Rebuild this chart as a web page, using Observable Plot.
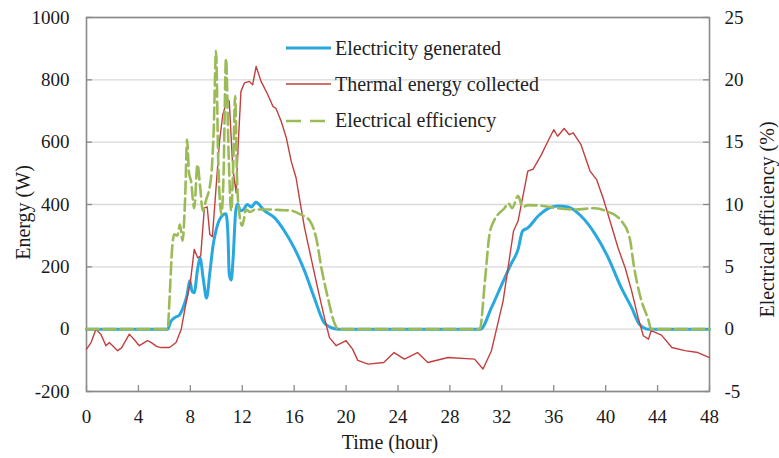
<!DOCTYPE html>
<html>
<head>
<meta charset="utf-8">
<script src="https://cdn.jsdelivr.net/npm/d3@7"></script>
<script src="https://cdn.jsdelivr.net/npm/@observablehq/plot@0.6"></script>
<style>
  html, body { margin: 0; padding: 0; background: #fff; }
  #wrap { position: relative; width: 779px; height: 458px; font-family: "Liberation Serif", "Times New Roman", serif; }
  #legend { position: absolute; left: 286px; top: 30px; font-size: 20px; color: #222; }
  .row { display: flex; align-items: center; height: 36.3px; }
  .row svg { margin-right: 4px; }
</style>
</head>
<body>
<div id="wrap"><div id="legend"></div></div>
<script>
// ---- data ----
const seriesNames = ["Electricity generated", "Thermal energy collected", "Electrical efficiency"];

const elecTime  = [0, 6.25, 6.5, 6.8, 7.15, 7.45, 7.75, 7.95, 8.15, 8.3, 8.55, 8.75, 9.0, 9.25, 9.5, 9.75, 10.0, 10.3, 10.75, 10.9, 11.0, 11.15, 11.3, 11.5, 11.65, 11.85, 12.05, 12.4, 12.7, 13.05, 13.7, 14.5, 15.25, 16.0, 16.8, 17.55, 18.3, 18.85, 19.4, 30.35, 31.2, 32.0, 32.7, 33.25, 33.6, 34.0, 34.8, 35.55, 36.3, 37.1, 38.1, 39.2, 40.2, 41.2, 42.0, 42.6, 43.3, 48];
const elecPower = [0, 0, 25, 37, 45, 70, 110, 155, 120, 117, 190, 228, 160, 100, 180, 268, 320, 355, 370, 300, 175, 158, 230, 380, 402, 380, 382, 400, 392, 407, 380, 357, 315, 261, 187, 101, 21, 5, 0, 0, 69, 144, 208, 256, 315, 325, 363, 387, 395, 392, 363, 304, 229, 133, 69, 16, 0, 0];

const thermTime  = [0, 0.35, 0.73, 1.1, 1.5, 1.76, 2.4, 2.7, 3.3, 3.7, 4.07, 4.7, 5.0, 5.4, 5.74, 6.4, 6.9, 7.3, 7.65, 8.0, 8.3, 8.57, 8.8, 9.08, 9.3, 9.5, 9.7, 10.0, 10.25, 10.5, 10.85, 11.0, 11.27, 11.53, 11.7, 11.9, 12.17, 12.55, 12.8, 13.07, 13.45, 13.97, 14.36, 14.6, 15.0, 15.4, 15.77, 16.15, 16.4, 16.8, 17.3, 17.8, 18.33, 18.72, 19.24, 20.0, 20.5, 20.9, 21.7, 22.9, 23.7, 24.5, 25.5, 26.3, 27.85, 29.9, 30.55, 31.2, 32.1, 32.9, 33.25, 34.0, 34.4, 35.05, 35.55, 36.0, 36.3, 36.8, 37.2, 37.5, 38.1, 38.8, 39.3, 39.8, 40.45, 40.95, 41.5, 42.0, 42.5, 42.9, 43.3, 43.5, 44.3, 45.1, 46.1, 47.1, 48];
const thermPower = [-64, -43, 0, -16, -53, -43, -69, -60, -16, -35, -53, -37, -43, -55, -59, -59, -43, 0, 80, 150, 256, 229, 235, 389, 392, 304, 297, 464, 603, 688, 738, 731, 517, 437, 603, 763, 790, 795, 784, 843, 795, 752, 715, 708, 667, 613, 539, 485, 421, 325, 229, 133, 37, -27, -53, -37, -64, -100, -112, -107, -75, -96, -75, -107, -91, -96, -128, -69, 91, 315, 347, 507, 513, 560, 603, 640, 619, 644, 624, 630, 592, 507, 480, 421, 331, 261, 197, 123, 37, -21, -32, -5, -19, -59, -69, -75, -91];

const effTime  = [0, 6.25, 6.4, 6.6, 6.75, 7.0, 7.2, 7.4, 7.6, 7.75, 7.9, 8.05, 8.3, 8.55, 8.75, 8.95, 9.2, 9.6, 9.8, 9.98, 10.15, 10.4, 10.55, 10.75, 10.95, 11.15, 11.3, 11.45, 11.6, 11.78, 12.0, 12.3, 12.6, 13.0, 14.0, 15.0, 15.8, 16.5, 17.2, 17.7, 18.1, 18.6, 19.1, 19.4, 30.3, 30.7, 31.05, 31.4, 31.7, 32.2, 32.5, 32.8, 33.25, 33.6, 34.0, 35.0, 36.3, 37.6, 39.2, 40.2, 40.8, 41.2, 41.85, 42.2, 42.7, 43.3, 43.5, 48];
const effValue = [0, 0, 2.5, 6.5, 7.6, 7.5, 8.4, 7.1, 10.5, 15.2, 12.5, 11.9, 9.7, 13.2, 11.5, 9.5, 10.3, 12.2, 16, 22.3, 13.5, 9.2, 12, 21.7, 14, 9.5, 13, 18.7, 12, 9.2, 8.3, 9.6, 9.4, 9.6, 9.6, 9.55, 9.5, 9.2, 8.7, 7.3, 4.9, 2.5, 0.5, 0, 0, 3.9, 7.6, 8.7, 9.2, 9.7, 10.1, 9.7, 10.7, 9.8, 9.95, 9.9, 9.7, 9.6, 9.7, 9.4, 9.1, 8.7, 7.3, 4.9, 2.5, 0.7, 0, 0];

const xTicks = [0, 4, 8, 12, 16, 20, 24, 28, 32, 36, 40, 44, 48];
const energyTicks = [-200, 0, 200, 400, 600, 800, 1000];
const effTicks = [-5, 0, 5, 10, 15, 20, 25];
const effToEnergy = 40; // right axis: -5..25 % aligned with -200..1000 W

// ---- styles ----
const colors = ["#29a8e0", "#c23f3f", "#9bbb59"];
const widths = [3, 1.4, 2.6];
const dashes = [null, null, "12,5"];
const axisGray = "#8a8a8a";
const font = '"Liberation Serif", "Times New Roman", serif';

const elec = elecTime.map((t, i) => ({t, v: elecPower[i]}));
const therm = thermTime.map((t, i) => ({t, v: thermPower[i]}));
const eff = effTime.map((t, i) => ({t, v: effValue[i]}));

const W = 779, H = 458, mL = 86, mR = 70, mT = 17, mB = 67;
const innerW = W - mL - mR, innerH = H - mT - mB;

const chart = Plot.plot({
  width: W, height: H,
  marginLeft: mL, marginRight: mR, marginTop: mT, marginBottom: mB,
  style: {fontFamily: font, fontSize: "19px", color: "#1a1a1a", background: "white"},
  x: {domain: [0, 48]},
  y: {domain: [-200, 1000]},
  marks: [
    Plot.gridY(energyTicks, {stroke: "#d9d9d9", strokeOpacity: 1, strokeWidth: 1.3}),
    Plot.tickY(energyTicks, {y: d => d, stroke: axisGray, strokeWidth: 1.3, insetRight: innerW - 6}),
    Plot.tickY(energyTicks, {y: d => d, stroke: axisGray, strokeWidth: 1.3, insetLeft: innerW - 6}),
    Plot.tickX(xTicks, {x: d => d, stroke: axisGray, strokeWidth: 1.3, insetTop: innerH - 6}),
    Plot.frame({stroke: axisGray, strokeWidth: 1.6}),
    Plot.axisY(energyTicks, {anchor: "left", tickSize: 0, tickPadding: 17, tickFormat: d => String(d), label: null, fontSize: 19, fontFamily: font}),
    Plot.axisY(effTicks.map(e => e * effToEnergy), {anchor: "right", tickSize: 0, tickPadding: 15, tickFormat: d => String(d / effToEnergy), label: null, fontSize: 19, fontFamily: font}),
    Plot.axisX(xTicks, {anchor: "bottom", tickSize: 0, tickPadding: 18, tickFormat: d => String(d), label: null, fontSize: 19, fontFamily: font}),
    Plot.line(elec, {x: "t", y: "v", stroke: colors[0], strokeWidth: widths[0], curve: "monotone-x"}),
    Plot.line(therm, {x: "t", y: "v", stroke: colors[1], strokeWidth: widths[1], curve: "linear"}),
    Plot.line(eff, {x: "t", y: d => d.v * effToEnergy, stroke: colors[2], strokeWidth: widths[2], strokeDasharray: dashes[2], curve: "monotone-x"}),
    Plot.text(["Energy (W)"], {frameAnchor: "left", textAnchor: "middle", rotate: -90, dx: -63, dy: 8, fontSize: 20, fontFamily: font, fill: "#1a1a1a"}),
    Plot.text(["Electrical efficiency (%)"], {frameAnchor: "right", textAnchor: "middle", rotate: -90, dx: 58, dy: 15, fontSize: 20, fontFamily: font, fill: "#1a1a1a"}),
    Plot.text(["Time (hour)"], {frameAnchor: "bottom", dx: -8, dy: 57, fontSize: 20, fontFamily: font, fill: "#1a1a1a"})
  ]
});

const wrap = document.getElementById("wrap");
wrap.insertBefore(chart, wrap.firstChild);

// legend
const legend = document.getElementById("legend");
seriesNames.forEach((name, i) => {
  const row = document.createElement("div");
  row.className = "row";
  const sw = d3.create("svg").attr("width", 45).attr("height", 10);
  sw.append("line").attr("x1", 0).attr("x2", 45).attr("y1", 5).attr("y2", 5)
    .attr("stroke", colors[i]).attr("stroke-width", widths[i])
    .attr("stroke-dasharray", dashes[i] ? "15,9" : null);
  row.appendChild(sw.node());
  const span = document.createElement("span");
  span.textContent = name;
  row.appendChild(span);
  legend.appendChild(row);
});
</script>
</body>
</html>
